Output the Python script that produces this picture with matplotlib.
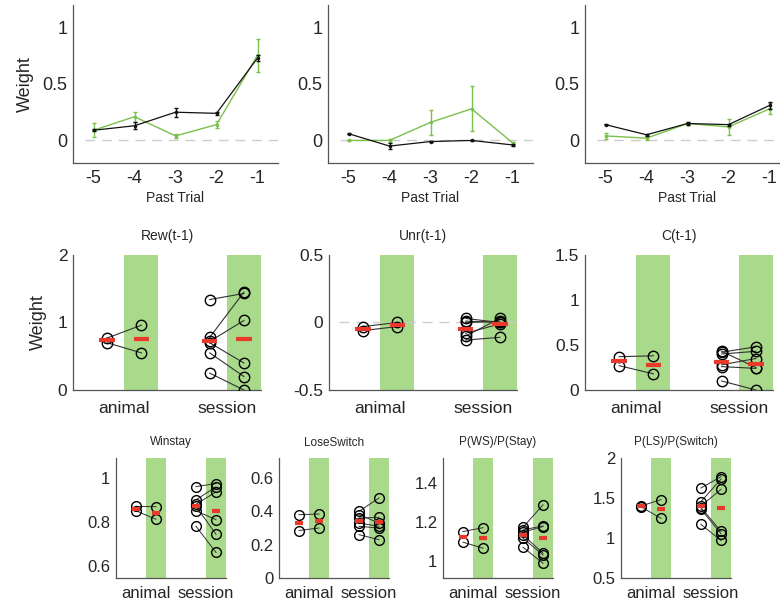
import matplotlib
matplotlib.use("Agg")
import matplotlib.pyplot as plt
import numpy as np

plt.rcParams['font.family'] = ['Liberation Sans', 'DejaVu Sans']

GREEN_BAR = '#a9d98b'
GREEN_LINE = '#7cc04c'
RED = '#e8392b'
AX_COL = '#555555'
TXT = '#262626'

# ---- top row: weights vs past trial ----
trials = [-5, -4, -3, -2, -1]

rew_black = [0.09, 0.13, 0.25, 0.24, 0.73]
rew_black_err = [0.01, 0.03, 0.04, 0.015, 0.03]
rew_green = [0.09, 0.21, 0.04, 0.14, 0.755]
rew_green_err = [0.063, 0.044, 0.015, 0.03, 0.146]

unr_black = [0.06, -0.05, -0.01, 0.0, -0.04]
unr_black_err = [0.005, 0.03, 0.005, 0.005, 0.01]
unr_green = [0.0, 0.0, 0.16, 0.28, -0.02]
unr_green_err = [0.005, 0.01, 0.11, 0.2, 0.01]

c_black = [0.14, 0.05, 0.15, 0.14, 0.31]
c_black_err = [0.005, 0.01, 0.01, 0.01, 0.03]
c_green = [0.04, 0.02, 0.15, 0.12, 0.28]
c_green_err = [0.03, 0.015, 0.01, 0.07, 0.05]

top_series = [
    (rew_black, rew_black_err, rew_green, rew_green_err),
    (unr_black, unr_black_err, unr_green, unr_green_err),
    (c_black, c_black_err, c_green, c_green_err),
]

# ---- paired panels: (left, right) values for animal and session ----
group_labels = ['animal', 'session']

rew_animal = ([0.77, 0.70], [0.96, 0.55])
rew_session = ([1.34, 0.78, 0.72, 0.70, 0.55, 0.25], [1.43, 1.45, 1.03, 0.40, 0.20, 0.0])

unr_animal = ([-0.03, -0.06], [0.0, -0.03])
unr_session = ([0.03, 0.01, 0.0, -0.08, -0.13, -0.10], [0.0, 0.0, 0.01, -0.01, -0.11, 0.03])

c_animal = ([0.37, 0.27], [0.38, 0.18])
c_session = ([0.43, 0.42, 0.40, 0.28, 0.26, 0.10], [0.25, 0.48, 0.43, 0.35, 0.24, 0.0])

ws_animal = ([0.87, 0.85], [0.869, 0.812])
ws_session = ([0.96, 0.90, 0.88, 0.87, 0.85, 0.78], [0.974, 0.959, 0.936, 0.744, 0.81, 0.661])

ls_animal = ([0.38, 0.285], [0.384, 0.30])
ls_session = ([0.40, 0.38, 0.36, 0.33, 0.31, 0.26], [0.48, 0.33, 0.364, 0.31, 0.30, 0.23])

pws_animal = ([1.15, 1.095], [1.17, 1.064])
pws_session = ([1.172, 1.159, 1.147, 1.133, 1.116, 1.069], [1.288, 1.179, 1.176, 1.038, 1.029, 0.986])

pls_animal = ([1.40, 1.39], [1.48, 1.246])
pls_session = ([1.625, 1.455, 1.40, 1.38, 1.36, 1.17], [1.766, 1.736, 1.608, 1.084, 1.054, 0.969])

mid_panels = [
    ('Rew(t-1)', rew_animal, rew_session, (0, 2), [0, 1, 2], ['0', '1', '2'], False),
    ('Unr(t-1)', unr_animal, unr_session, (-0.5, 0.5), [-0.5, 0, 0.5], ['-0.5', '0', '0.5'], True),
    ('C(t-1)', c_animal, c_session, (0, 1.5), [0, 0.5, 1, 1.5], ['0', '0.5', '1', '1.5'], False),
]

bot_panels = [
    ('Winstay', ws_animal, ws_session, (0.545, 1.09), [0.6, 0.8, 1], ['0.6', '0.8', '1']),
    ('LoseSwitch', ls_animal, ls_session, (0, 0.72), [0, 0.2, 0.4, 0.6], ['0', '0.2', '0.4', '0.6']),
    ('P(WS)/P(Stay)', pws_animal, pws_session, (0.91, 1.53), [1, 1.2, 1.4], ['1', '1.2', '1.4']),
    ('P(LS)/P(Switch)', pls_animal, pls_session, (0.5, 2.0), [0.5, 1, 1.5, 2], ['0.5', '1', '1.5', '2']),
]

W, H = 780, 605
fig = plt.figure(figsize=(W / 100, H / 100), dpi=100)


def px_axes(x0, y0, x1, y1):
    return fig.add_axes([x0 / W, 1 - y1 / H, (x1 - x0) / W, (y1 - y0) / H])


def style(ax, fs, xpad=4):
    for s in ['top', 'right']:
        ax.spines[s].set_visible(False)
    for s in ['left', 'bottom']:
        ax.spines[s].set_color(AX_COL)
        ax.spines[s].set_linewidth(0.9)
    ax.tick_params(length=0, labelsize=fs, colors=TXT, pad=4)
    ax.tick_params(axis='x', pad=xpad)


# top row
top_x = [(73, 278), (328, 533), (585, 790)]
for i, (bl, ble, gr, gre) in enumerate(top_series):
    ax = px_axes(top_x[i][0], 5, top_x[i][1], 163)
    style(ax, 13, xpad=5)
    ax.plot([-5.2, -0.5], [0, 0], color='#cccccc', lw=1, dashes=(7, 5), zorder=1)
    ax.errorbar(trials, gr, yerr=gre, color=GREEN_LINE, lw=1, marker='.', ms=3,
                elinewidth=1, capsize=1.5, zorder=2)
    ax.errorbar(trials, bl, yerr=ble, color='#111111', lw=0.9, marker='.', ms=3,
                elinewidth=1, capsize=1.5, zorder=3)
    ax.set_xlim(-5.5, -0.5)
    ax.set_ylim(-0.2, 1.2)
    ax.set_xticks(trials)
    ax.set_xticklabels([str(t) for t in trials])
    ax.set_yticks([0, 0.5, 1])
    ax.set_yticklabels(['0', '0.5', '1'])
    ax.set_xlabel('Past Trial', fontsize=10, color=TXT, labelpad=3)
    if i == 0:
        ax.set_ylabel('Weight', fontsize=13, color=TXT, labelpad=6)


def paired(ax, animal, session, ms, red_w, lw_c):
    for (lv, rv), base in [(animal, 1), (session, 4)]:
        ax.axvspan(base + 0.5, base + 1.5, color=GREEN_BAR, lw=0, zorder=0)
        for a, b in zip(lv, rv):
            ax.plot([base, base + 1], [a, b], color='#333333', lw=lw_c, zorder=2)
        ax.plot([base] * len(lv), lv, 'o', mfc='none', mec='black', mew=1, ms=ms, zorder=3)
        ax.plot([base + 1] * len(rv), rv, 'o', mfc='none', mec='black', mew=1, ms=ms, zorder=3)
        for x, vals in [(base, lv), (base + 1, rv)]:
            m = np.mean(vals)
            ax.plot([x - red_w / 2, x + red_w / 2], [m, m], color=RED, lw=3,
                    solid_capstyle='butt', zorder=4)
    ax.set_xlim(0, 5.5)
    ax.set_xticks([1.5, 4.5])
    ax.set_xticklabels(group_labels)


# middle row
mid_x = [73, 329, 585]
for i, (title, an, se, yl, yt, ytl, zero) in enumerate(mid_panels):
    ax = px_axes(mid_x[i], 255, mid_x[i] + 188, 390)
    style(ax, 12.5, xpad=8)
    if zero:
        ax.plot([0.3, 5.5], [0, 0], color='#cccccc', lw=1, dashes=(7, 5), zorder=1)
    paired(ax, an, se, 7.5, 0.45, 0.8)
    ax.set_ylim(*yl)
    ax.set_yticks(yt)
    ax.set_yticklabels(ytl)
    ax.set_title(title, fontsize=10, color=TXT, pad=11)
    if i == 0:
        ax.set_ylabel('Weight', fontsize=13, color=TXT, labelpad=8)

# bottom row
bot_x = [116, 279, 443, 621]
for i, (title, an, se, yl, yt, ytl) in enumerate(bot_panels):
    ax = px_axes(bot_x[i], 458, bot_x[i] + 110, 578)
    style(ax, 12, xpad=6)
    paired(ax, an, se, 7, 0.4, 0.7)
    ax.set_ylim(*yl)
    ax.set_yticks(yt)
    ax.set_yticklabels(ytl)
    ax.set_title(title, fontsize=8.5, color=TXT, pad=9)

fig.savefig('out.png', dpi=100)
